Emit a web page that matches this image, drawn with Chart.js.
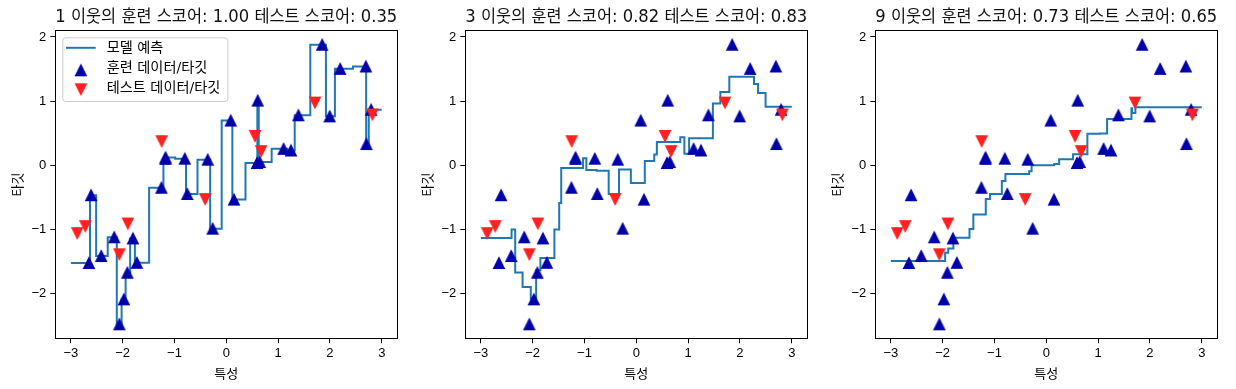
<!DOCTYPE html>
<html><head><meta charset="utf-8">
<script src="https://cdn.jsdelivr.net/npm/chart.js@4.4.1/dist/chart.umd.min.js"></script>
<style>
html,body{margin:0;padding:0;background:#fff;overflow:hidden}
#wrap{position:relative;width:1236px;height:389px;background:#fff}
canvas{position:absolute;top:0}
</style></head><body>
<div id="wrap">
<canvas id="c0" width="410" height="389" style="left:0px"></canvas>
<canvas id="c1" width="410" height="389" style="left:410px"></canvas>
<canvas id="c2" width="416" height="389" style="left:820px"></canvas>
</div>
<script>
// ---- data ----
const trainX = [-2.6515, -2.6097, -2.4140, -2.1630, -2.0640, -1.9769, -1.9091, -1.8020, -1.7260, -1.2526,
                -1.1745, -1.1723, -0.8018, -0.7528, -0.3591, -0.2636, 0.0854, 0.1485, 0.5920, 0.6067,
                0.6453, 1.1054, 1.2484, 1.3920, 1.8504, 1.9947, 2.1971, 2.6933, 2.7043, 2.7938];
const trainY = [-1.524, -0.467, -1.415, -1.123, -2.479, -2.090, -1.675, -1.140, -1.520, -0.350,
                0.100, 0.120, 0.103, -0.448, 0.087, -0.988, 0.697, -0.535, 0.035, 1.008,
                0.050, 0.256, 0.230, 0.779, 1.879, 0.762, 1.503, 1.540, 0.331, 0.865];
const testX = [-2.8765, -2.7213, -2.0639, -1.8996, -1.2471, -0.4083, 0.5545, 0.6711, 1.7111, 2.8195];
const testY = [-1.058, -0.949, -1.388, -0.908, 0.375, -0.527, 0.456, 0.220, 0.977, 0.790];

const lineRange = [-3, 3];
// 1 neighbour prediction: step positions and levels
const knn1Breaks = [-2.6306, -2.5119, -2.2885, -2.1135, -2.0205, -1.9430, -1.8556, -1.7640, -1.4893, -1.2136,
                    -1.1734, -0.9871, -0.7773, -0.5560, -0.3114, -0.0891, 0.1170, 0.3703, 0.5994, 0.6260,
                    0.8754, 1.1769, 1.3202, 1.6212, 1.9226, 2.0959, 2.4452, 2.6988, 2.7491];
const knn1Values = [-1.524, -0.467, -1.415, -1.123, -2.479, -2.090, -1.675, -1.140, -1.520, -0.350,
                    0.100, 0.120, 0.103, -0.448, 0.087, -0.988, 0.697, -0.535, 0.035, 1.008,
                    0.050, 0.256, 0.230, 0.779, 1.879, 0.762, 1.503, 1.540, 0.331, 0.865];
// 3 neighbours
const knn3Breaks = [-2.407, -2.337, -2.195, -2.036, -1.933, -1.851, -1.581, -1.488, -1.449, -1.027,
                    -0.964, -0.766, -0.533, -0.334, -0.105, 0.164, 0.346, 0.397, 0.849, 0.928,
                    1.019, 1.478, 1.622, 1.795, 2.272, 2.350, 2.495];
const knn3Values = [-1.135, -1.002, -1.672, -1.897, -2.081, -1.635, -1.445, -1.003, -0.590, -0.043,
                    0.108, -0.075, -0.086, -0.450, -0.068, -0.275, 0.066, 0.169, 0.364, 0.438,
                    0.179, 0.422, 0.963, 1.140, 1.381, 1.268, 1.125, 0.912];
// 9 neighbours
const knn9Breaks = [-1.952, -1.892, -1.793, -1.482, -1.408, -1.168, -1.086, -0.858, -0.789, -0.330,
                    -0.284, -0.264, 0.152, 0.248, 0.516, 0.793, 1.040, 1.173, 1.643, 1.656, 1.720];
const knn9Values = [-1.493, -1.362, -1.299, -1.129, -0.992, -0.767, -0.525, -0.448, -0.244, -0.135,
                    -0.092, 0.009, 0.001, 0.018, 0.093, 0.170, 0.489, 0.496, 0.722, 0.890, 0.814, 0.905];

const neighbors = [1, 3, 9];
const trainScores = ['1.00', '0.82', '0.73'];
const testScores = ['0.35', '0.83', '0.65'];
const xTicks = [-3, -2, -1, 0, 1, 2, 3];
const yTicks = [-2, -1, 0, 1, 2];
const legendLabels = ['모델 예측', '훈련 데이터/타깃', '테스트 데이터/타깃'];

// ---- styling ----
const KR = '"DejaVu Sans", "Noto Sans CJK KR", sans-serif';
const KRONLY = '"Noto Sans CJK KR", sans-serif';
const TICKF = '"Liberation Sans", "DejaVu Sans", sans-serif';
const LINE_C = '#1f77b4', TRAIN_C = '#0000aa', TEST_C = '#ff2020';

function triangleImage(color, up) {
  const c = document.createElement('canvas');
  c.width = 16; c.height = 16;
  const g = c.getContext('2d');
  const h = 5.4;
  g.beginPath();
  if (up) { g.moveTo(8, 8 - h); g.lineTo(8 + h, 8 + h); g.lineTo(8 - h, 8 + h); }
  else { g.moveTo(8, 8 + h); g.lineTo(8 + h, 8 - h); g.lineTo(8 - h, 8 - h); }
  g.closePath();
  g.fillStyle = color; g.fill();
  g.lineWidth = 1.2; g.strokeStyle = color; g.lineJoin = 'miter'; g.stroke();
  return c;
}
const triUp = triangleImage(TRAIN_C, true);
const triDown = triangleImage(TEST_C, false);

const framePlugin = {
  id: 'frame',
  afterDatasetsDraw(chart) {
    const a = chart.chartArea, ctx = chart.ctx;
    const l = Math.floor(a.left) + 0.5, t = Math.floor(a.top) + 0.5;
    const r = Math.floor(a.right) + 0.5, b = Math.floor(a.bottom) + 0.5;
    ctx.save();
    ctx.strokeStyle = '#000'; ctx.lineWidth = 1;
    ctx.strokeRect(l, t, r - l, b - t);
    ctx.restore();
  }
};

const legendPlugin = {
  id: 'mplLegend',
  afterDraw(chart, args, opts) {
    if (!opts || !opts.show) return;
    const ctx = chart.ctx, a = chart.chartArea;
    ctx.save();
    ctx.font = '14.2px ' + KR;
    const tw = Math.max(...legendLabels.map(t => ctx.measureText(t).width));
    const bx = a.left + 7, by = a.top + 6.6;
    const hx0 = bx + 3.7, hx1 = hx0 + 29.7, tx = hx1 + 11;
    const bw = tx + tw + 7 - bx, bh = 63.7;
    ctx.beginPath();
    if (ctx.roundRect) ctx.roundRect(bx + 0.5, by + 0.5, bw, bh, 3); else ctx.rect(bx + 0.5, by + 0.5, bw, bh);
    ctx.fillStyle = 'rgba(255,255,255,0.8)'; ctx.fill();
    ctx.strokeStyle = '#cccccc'; ctx.lineWidth = 1; ctx.stroke();
    const rows = [by + 10.5, by + 33, by + 52];
    ctx.beginPath(); ctx.moveTo(hx0, rows[0]); ctx.lineTo(hx1, rows[0]);
    ctx.strokeStyle = LINE_C; ctx.lineWidth = 2; ctx.stroke();
    const hc = (hx0 + hx1) / 2;
    ctx.drawImage(triUp, hc - 8, rows[1] - 8);
    ctx.drawImage(triDown, hc - 8, rows[2] - 8);
    ctx.fillStyle = '#000'; ctx.textBaseline = 'middle'; ctx.textAlign = 'left';
    ctx.fillText(legendLabels[0], tx, rows[0] + 1);
    ctx.fillText(legendLabels[1], tx, rows[1] - 1.5);
    ctx.fillText(legendLabels[2], tx, rows[2] - 1);
    ctx.restore();
  }
};

const fmt = v => (v < 0 ? '\u2212' + Math.abs(v) : String(v));
const pts = (xs, ys) => xs.map((x, i) => ({x: x, y: ys[i]}));
const stepPts = (breaks, vals) => [{x: lineRange[0], y: vals[0]}]
  .concat(breaks.map((b, i) => ({x: b, y: vals[i + 1]})))
  .concat([{x: lineRange[1], y: vals[vals.length - 1]}]);

const lines = [[knn1Breaks, knn1Values], [knn3Breaks, knn3Values], [knn9Breaks, knn9Values]];

function makeChart(k) {
  const canvas = document.getElementById('c' + k);
  const W = canvas.width;
  const rightPad = W - 397.3;
  return new Chart(canvas, {
    type: 'scatter',
    data: {
      datasets: [
        {type: 'line', label: legendLabels[0], data: stepPts(lines[k][0], lines[k][1]),
         borderColor: LINE_C, borderWidth: 2, pointRadius: 0, stepped: true, fill: false, order: 3},
        {label: legendLabels[1], data: pts(trainX, trainY), pointStyle: triUp, pointRadius: 6, order: 2},
        {label: legendLabels[2], data: pts(testX, testY), pointStyle: triDown, pointRadius: 6, order: 1}
      ]
    },
    options: {
      responsive: false, animation: false, devicePixelRatio: 1,
      events: [],
      layout: {padding: {left: 0, right: rightPad, top: 0, bottom: 0}},
      plugins: {
        legend: {display: false},
        tooltip: {enabled: false},
        title: {display: true, fullSize: false,
          text: neighbors[k] + ' 이웃의 훈련 스코어: ' + trainScores[k] + ' 테스트 스코어: ' + testScores[k],
          font: {family: KR, size: 17, weight: 'normal', lineHeight: 1.2}, color: '#111',
          padding: {top: 7.5, bottom: 2.8}},
        mplLegend: {show: k === 0}
      },
      scales: {
        x: {type: 'linear', min: -3.3, max: 3.3,
          afterBuildTicks: s => { s.ticks = xTicks.map(v => ({value: v})); },
          afterFit: s => { s.height = 50.7; },
          grid: {drawOnChartArea: false, drawTicks: true, tickLength: 5, tickColor: '#000', tickWidth: 1},
          border: {display: false},
          ticks: {font: {family: TICKF, size: 13}, color: '#000', padding: 2, maxRotation: 0, autoSkip: false, callback: fmt},
          title: {display: true, text: '특성', font: {family: KRONLY, size: 13}, color: '#000', padding: {top: 0, bottom: 8.5}}
        },
        y: {type: 'linear', min: -2.697, max: 2.097,
          afterBuildTicks: s => { s.ticks = yTicks.map(v => ({value: v})); },
          afterFit: s => { s.width = 55.3; },
          grid: {drawOnChartArea: false, drawTicks: true, tickLength: 5, tickColor: '#000', tickWidth: 1},
          border: {display: false},
          ticks: {font: {family: TICKF, size: 13}, color: '#000', padding: 4, autoSkip: false, callback: fmt},
          title: {display: true, text: '타깃', font: {family: KRONLY, size: 13}, color: '#000', padding: {top: 9, bottom: 0}}
        }
      }
    },
    plugins: [framePlugin, legendPlugin]
  });
}
[0, 1, 2].forEach(makeChart);
</script>
</body></html>
